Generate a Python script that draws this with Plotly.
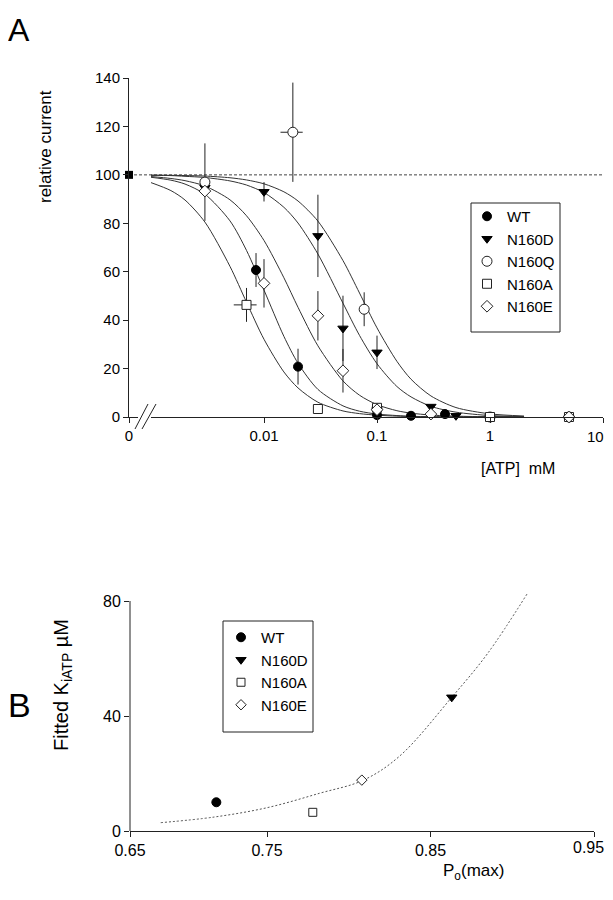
import plotly.graph_objects as go

# ---------------- Panel A data ----------------
CONTROL_ATP = [0]
CONTROL_CURRENT = [100]

WT_ATP = [0.0085, 0.02, 0.1, 0.2, 0.4]
WT_CUR = [60.7, 20.8, 0.8, 0.5, 1.2]
WT_ERR = [7, 7.4, 0, 0, 0]

N160D_ATP = [0.003, 0.01, 0.03, 0.05, 0.1, 0.3, 0.5, 1]
N160D_CUR = [94.7, 93, 74.8, 36.6, 26.7, 4.3, 0.5, 0]
N160D_ERR = [0, 4, 17, 13.5, 6.9, 0, 0, 0]

N160Q_ATP = [0.003, 0.018, 0.077, 0.1, 1, 5]
N160Q_CUR = [97, 117.6, 44.5, 3.5, 0, 0]
N160Q_ERR = [16, 20.5, 7, 0, 0, 0]
N160Q_XERR = [0, 0.004, 0, 0, 0, 0]

N160A_ATP = [0.007, 0.03, 0.1, 1, 5]
N160A_CUR = [46.3, 3.3, 3.8, 0, 0]
N160A_ERR = [7, 0, 0, 0, 0]
N160A_XERR = [0.0016, 0, 0, 0, 0]

N160E_ATP = [0.003, 0.01, 0.03, 0.05, 0.1, 0.3, 5]
N160E_CUR = [93.3, 55.2, 41.8, 19.1, 3, 1.2, 0]
N160E_ERR = [0, 10, 10.2, 9, 0, 0, 0]

# fitted curves
FIT_ATP = [0.001, 0.0015, 0.002, 0.003, 0.005, 0.007, 0.01, 0.015, 0.02, 0.03,
           0.05, 0.07, 0.1, 0.15, 0.2, 0.3, 0.5, 1, 2]
FIT_WT = [99.0, 97.8, 96.2, 92.0, 81.0, 68.8, 52.4, 33.3, 22.2, 11.4,
          4.6, 2.4, 1.2, 0.6, 0.3, 0.1, 0.05, 0, 0]
FIT_N160D = [99.8, 99.7, 99.4, 98.9, 97.5, 95.8, 92.7, 86.6, 80.1, 67.3,
             47.0, 33.7, 22.0, 12.6, 8.3, 4.4, 2.0, 0.6, 0.2]
FIT_N160Q = [99.9, 99.8, 99.7, 99.5, 98.8, 97.9, 96.3, 93.0, 89.2, 80.9,
             64.6, 51.2, 36.8, 23.0, 15.6, 8.7, 3.9, 1.3, 0.4]
FIT_N160A = [96.8, 93.5, 89.6, 80.5, 62.2, 47.4, 32.1, 18.6, 12.0, 6.1,
             2.5, 1.4, 0.75, 0.36, 0.2, 0.1, 0.04, 0, 0]
FIT_N160E = [99.3, 98.5, 97.6, 95.4, 89.7, 83.1, 72.9, 57.5, 45.3, 29.4,
             14.9, 9.0, 5.1, 2.6, 1.6, 0.8, 0.35, 0.1, 0.03]

A_XTICKS = [0.01, 0.1, 1, 10]
A_XTICK_LABELS = ["0.01", "0.1", "1", "10"]

# ---------------- Panel B data ----------------
PO_WT, KI_WT = [0.719], [10.0]
PO_N160D, KI_N160D = [0.863], [46.5]
PO_N160A, KI_N160A = [0.778], [6.5]
PO_N160E, KI_N160E = [0.808], [17.7]

PO_FIT = [0.685, 0.717, 0.75, 0.782, 0.809, 0.831, 0.863, 0.885, 0.909]
KI_FIT = [2.9, 4.8, 8.1, 13.1, 17.7, 26.0, 46.5, 61.8, 82.4]

B_XTICKS = [0.6662, 0.75, 0.85, 0.95]
B_XTICK_LABELS = ["0.65", "0.75", "0.85", "0.95"]
B_YTICKS = [0, 40, 80]

# ---------------- layout helpers (page pixel -> paper) ----------------
OFF = 8                      # page body margin
W, H = 597, 884              # page (613x900) minus body margins -> no scrollbars
ML, MR, MT, MB = 121, 2, 52, 12
PW, PH = W - ML - MR, H - MT - MB


def px(x):
    return (x - OFF - ML) / PW


def py(y):
    return (H - MB - (y - OFF)) / PH


FONT = "Liberation Sans, Arial, Helvetica, sans-serif"
INK = "#222222"

fig = go.Figure()

# fitted curves (panel A)
for ys in [FIT_N160A, FIT_WT, FIT_N160E, FIT_N160D, FIT_N160Q]:
    fig.add_trace(go.Scatter(x=FIT_ATP, y=ys, xaxis="x2", yaxis="y", mode="lines",
                             line=dict(color="#333333", width=1, shape="spline", smoothing=0.8),
                             showlegend=False, hoverinfo="skip"))


def err(arr):
    return dict(type="data", array=arr, visible=True, color=INK, thickness=1, width=0)


series_A = [
    ("WT", WT_ATP, WT_CUR, WT_ERR, None, dict(symbol="circle", size=9, color="black",
                                               line=dict(color="black", width=1))),
    ("N160D", N160D_ATP, N160D_CUR, N160D_ERR, None, dict(symbol="triangle-down", size=9, color="black",
                                                          line=dict(color="black", width=1))),
    ("N160Q", N160Q_ATP, N160Q_CUR, N160Q_ERR, N160Q_XERR, dict(symbol="circle", size=10, color="white",
                                                                line=dict(color=INK, width=1))),
    ("N160A", N160A_ATP, N160A_CUR, N160A_ERR, N160A_XERR, dict(symbol="square", size=9, color="white",
                                                                line=dict(color=INK, width=1))),
    ("N160E", N160E_ATP, N160E_CUR, N160E_ERR, None, dict(symbol="diamond", size=9, color="white",
                                                          line=dict(color=INK, width=1))),
]

for name, xs, ys, ey, ex, mk in series_A:
    tr = go.Scatter(x=xs, y=ys, xaxis="x2", yaxis="y", mode="markers", name=name,
                    marker=mk, error_y=err(ey), cliponaxis=False,
                    legendgroup="A" + name, legend="legend")
    if ex is not None:
        tr.error_x = err(ex)
    fig.add_trace(tr)

# control point at zero ATP
fig.add_trace(go.Scatter(x=CONTROL_ATP, y=CONTROL_CURRENT, xaxis="x", yaxis="y", mode="markers",
                         marker=dict(symbol="square", size=8, color="black"),
                         cliponaxis=False, showlegend=False))

# ---------------- Panel B traces ----------------
fig.add_trace(go.Scatter(x=PO_FIT, y=KI_FIT, xaxis="x3", yaxis="y2", mode="lines",
                         line=dict(color="#555555", width=1, dash="2px,2px", shape="spline"),
                         showlegend=False, hoverinfo="skip"))

series_B = [
    ("WT", PO_WT, KI_WT, dict(symbol="circle", size=9, color="black", line=dict(color="black", width=1))),
    ("N160D", PO_N160D, KI_N160D, dict(symbol="triangle-down", size=9, color="black",
                                       line=dict(color="black", width=1))),
    ("N160A", PO_N160A, KI_N160A, dict(symbol="square", size=8, color="white", line=dict(color=INK, width=1))),
    ("N160E", PO_N160E, KI_N160E, dict(symbol="diamond", size=8, color="white", line=dict(color=INK, width=1))),
]
for name, xs, ys, mk in series_B:
    fig.add_trace(go.Scatter(x=xs, y=ys, xaxis="x3", yaxis="y2", mode="markers", name=name,
                             marker=mk, cliponaxis=False, legendgroup="B" + name, legend="legend2"))

axis_common = dict(showgrid=False, zeroline=False, showline=True, linecolor=INK, linewidth=1,
                   ticks="outside", tickcolor=INK, ticklen=5, tickwidth=1,
                   tickfont=dict(family=FONT, size=15, color="black"))

A_top = py(78)
A_bot = py(417)
B_bot = py(831)
B_top = py(831 - 83 * (230 / 80))

# the last tick label of each x axis sits at the window edge; it is drawn as an
# annotation just inside the figure instead of as a (clipped) tick label
A_ticktext = A_XTICK_LABELS[:-1] + [""]
B_ticktext = B_XTICK_LABELS[:-1] + [""]

fig.update_layout(
    width=W, height=H, margin=dict(l=ML, r=MR, t=MT, b=MB),
    paper_bgcolor="white", plot_bgcolor="white",
    font=dict(family=FONT, color="black"),
    xaxis=dict(axis_common, domain=[0, px(138)], range=[0, 1], anchor="y",
               tickvals=[0], ticktext=["0"]),
    xaxis2=dict(axis_common, domain=[px(151), 1], type="log", range=[-3, 1], anchor="y",
                tickvals=A_XTICKS, ticktext=A_ticktext),
    yaxis=dict(axis_common, domain=[A_bot, A_top], range=[0, 140], dtick=20, anchor="x"),
    xaxis3=dict(axis_common, domain=[px(130), px(594)], range=[B_XTICKS[0], 0.95], anchor="y2",
                tickvals=B_XTICKS, ticktext=B_ticktext,
                tickfont=dict(family=FONT, size=16, color="black")),
    yaxis2=dict(axis_common, domain=[B_bot, B_top], range=[0, 83], anchor="x3", showline=False,
                tickvals=B_YTICKS, tickfont=dict(family=FONT, size=16, color="black")),
    legend=dict(x=px(467), y=py(200), xanchor="left", yanchor="top", bgcolor="rgba(0,0,0,0)",
                borderwidth=0, font=dict(family=FONT, size=15),
                tracegroupgap=12, traceorder="normal"),
    legend2=dict(x=px(221), y=py(621), xanchor="left", yanchor="top", bgcolor="rgba(0,0,0,0)",
                 borderwidth=0, font=dict(family=FONT, size=15),
                 tracegroupgap=12, traceorder="normal"),
    showlegend=True,
)

shapes = [
    # reference line at 100 %
    dict(type="line", xref="paper", yref="y", x0=0, x1=1, y0=100, y1=100,
         line=dict(color="#444444", width=1, dash="3px,2px"), layer="below"),
    # axis break marks
    dict(type="line", xref="paper", yref="paper", x0=px(135), y0=py(429), x1=px(148), y1=py(404),
         line=dict(color=INK, width=1)),
    dict(type="line", xref="paper", yref="paper", x0=px(142), y0=py(429), x1=px(156), y1=py(404),
         line=dict(color=INK, width=1)),
    # panel B y-axis line (0 to 80)
    dict(type="line", xref="paper", yref="y2", x0=px(130), x1=px(130), y0=0, y1=80,
         line=dict(color=INK, width=1)),
    # legend frames
    dict(type="rect", xref="paper", yref="paper", x0=px(471), x1=px(560), y0=py(332), y1=py(203),
         line=dict(color=INK, width=1)),
    dict(type="rect", xref="paper", yref="paper", x0=px(223), x1=px(313), y0=py(732), y1=py(621),
         line=dict(color=INK, width=1)),
]
fig.update_layout(shapes=shapes)

ann = [
    dict(text="A", x=px(19), y=py(30), size=32),
    dict(text="B", x=px(19), y=py(705), size=34),
    dict(text="relative current", x=px(45), y=py(147), textangle=-90, size=17),
    dict(text="[ATP]  mM", x=px(518), y=py(468), size=16),
    dict(text="Fitted K<sub>iATP</sub> µM", x=px(62), y=py(685), textangle=-90, size=20),
    dict(text="P<sub>o</sub>(max)", x=px(473), y=py(872), size=17),
    dict(text=A_XTICK_LABELS[-1], x=px(605), y=py(437), size=15, xanchor="right"),
    dict(text=B_XTICK_LABELS[-1], x=px(605), y=py(847), size=16, xanchor="right"),
]
annotations = []
for a in ann:
    size = a.pop("size")
    xa = a.pop("xanchor", "center")
    a.update(xref="paper", yref="paper", showarrow=False, xanchor=xa, yanchor="middle",
             borderpad=0, font=dict(family=FONT, size=size, color="black"))
    annotations.append(a)
fig.update_layout(annotations=annotations)

fig.write_html("out.html")
